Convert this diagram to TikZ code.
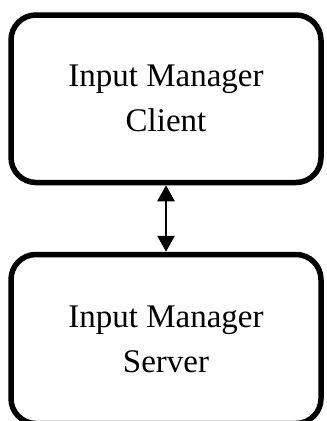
\documentclass[tikz,border=0pt]{standalone}
\usepackage{fontspec}
\setmainfont{Liberation Serif}
\usetikzlibrary{arrows.meta,positioning}

\tikzset{
  managerbox/.style={draw, line width=5.5pt, rounded corners=25pt,
    minimum width=310pt, align=center,
    font=\fontsize{33}{45}\selectfont},
  link/.style={line width=2.6pt, {Triangle[width=17pt,length=16pt]}-{Triangle[width=17pt,length=16pt]}}
}

\begin{document}
\begin{tikzpicture}[x=1pt,y=1pt]
  % Fix the page to the size of the reference
  \useasboundingbox (0,0) rectangle (327,-421);

  % The client box on top
  \node[managerbox, minimum height=167.5pt] (client) at (166,-98.75)
    {Input Manager\\Client};

  % The server box below, its bottom edge just off the page
  \node[managerbox, minimum height=169pt] (server) at (166,-339)
    {Input Manager\\Server};

  % Two-way link between them
  \draw[link] (client) -- (server);
\end{tikzpicture}
\end{document}
